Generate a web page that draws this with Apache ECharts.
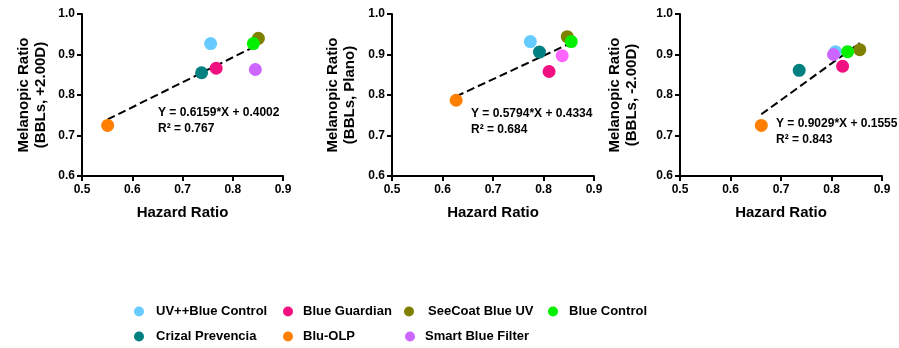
<!DOCTYPE html>
<html>
<head>
<meta charset="utf-8">
<script src="https://cdn.jsdelivr.net/npm/echarts@6/dist/echarts.min.js"></script>
<style>
html,body{margin:0;padding:0;background:#fff;}
#chart{width:899px;height:348px;}
</style>
</head>
<body>
<div id="chart"></div>
<script>
// ---- data ----
const lenses = ["UV++Blue Control", "Blue Guardian", "SeeCoat Blue UV", "Blue Control", "Crizal Prevencia", "Blu-OLP", "Smart Blue Filter"];
const lensColors = ["#66CCFF", "#F0107F", "#808000", "#00F000", "#008080", "#FF8000", "#CC66FF"];
const xTicks = [0.5, 0.6, 0.7, 0.8, 0.9];
const yTicks = [0.6, 0.7, 0.8, 0.9, 1.0];

const hazardPlus2 = [0.756, 0.767, 0.851, 0.841, 0.738, 0.551, 0.845];
const melanPlus2  = [0.927, 0.866, 0.940, 0.927, 0.855, 0.725, 0.863];
const hazardPlano = [0.774, 0.811, 0.847, 0.855, 0.792, 0.627, 0.837];
const melanPlano  = [0.932, 0.858, 0.944, 0.932, 0.906, 0.787, 0.897];
const hazardMinus2 = [0.808, 0.822, 0.856, 0.832, 0.736, 0.661, 0.804];
const melanMinus2  = [0.907, 0.871, 0.912, 0.907, 0.861, 0.725, 0.900];

const slopes = [0.6159, 0.5794, 0.9029];
const intercepts = [0.4002, 0.4334, 0.1555];
const r2 = ["0.767", "0.684", "0.843"];
const yTitles = ["Melanopic Ratio\n(BBLs, +2.00D)", "Melanopic Ratio\n(BBLs, Plano)", "Melanopic Ratio\n(BBLs, -2.00D)"];
const xTitle = "Hazard Ratio";

// ---- layout ----
const panels = [
  {hx: hazardPlus2, my: melanPlus2, grid: {left: 82, top: 14, width: 201, height: 162}, nameGap: 33, eq: [158, 105]},
  {hx: hazardPlano, my: melanPlano, grid: {left: 392, top: 14, width: 202, height: 162}, nameGap: 34, eq: [471, 106]},
  {hx: hazardMinus2, my: melanMinus2, grid: {left: 680, top: 14, width: 202, height: 162}, nameGap: 40, eq: [776, 116]}
];
const panelColorOverride = [{}, {6: "#FF66FF"}, {}];

const FONT = "'Liberation Sans', Arial, sans-serif";

const grids = [], xAxes = [], yAxes = [], series = [], graphics = [];
panels.forEach((p, i) => {
  grids.push(Object.assign({containLabel: false}, p.grid));
  xAxes.push({
    type: 'value', gridIndex: i, min: xTicks[0], max: xTicks[xTicks.length - 1], interval: 0.1,
    name: xTitle, nameLocation: 'middle', nameGap: 29,
    nameTextStyle: {fontFamily: FONT, fontWeight: 'bold', fontSize: 15, color: '#000'},
    axisLine: {lineStyle: {color: '#000', width: 2}},
    axisTick: {show: true, length: 5, lineStyle: {color: '#000', width: 2}},
    axisLabel: {fontFamily: FONT, fontWeight: 'bold', fontSize: 12, color: '#000', margin: 8,
      formatter: v => v.toFixed(1)},
    splitLine: {show: false}
  });
  yAxes.push({
    type: 'value', gridIndex: i, min: yTicks[0], max: yTicks[yTicks.length - 1], interval: 0.1,
    name: yTitles[i], nameLocation: 'middle', nameGap: p.nameGap,
    nameTextStyle: {fontFamily: FONT, fontWeight: 'bold', fontSize: 15, color: '#000', lineHeight: 17},
    axisLine: {lineStyle: {color: '#000', width: 2}},
    axisTick: {show: true, length: 5, lineStyle: {color: '#000', width: 2}},
    axisLabel: {fontFamily: FONT, fontWeight: 'bold', fontSize: 12, color: '#000', margin: 7,
      formatter: v => v.toFixed(1)},
    splitLine: {show: false}
  });
  // regression line
  const xmin = Math.min(...p.hx), xmax = Math.max(...p.hx);
  series.push({
    type: 'line', xAxisIndex: i, yAxisIndex: i, symbol: 'none', silent: true, z: 1,
    data: [[xmin, slopes[i] * xmin + intercepts[i]], [xmax, slopes[i] * xmax + intercepts[i]]],
    lineStyle: {color: '#000', width: 2, type: [8, 4]}
  });
  lenses.forEach((name, k) => {
    const c = panelColorOverride[i][k] || lensColors[k];
    series.push({
      type: 'scatter', name: name, xAxisIndex: i, yAxisIndex: i, symbolSize: 13, z: 3,
      itemStyle: {color: c, opacity: 1},
      data: [[p.hx[k], p.my[k]]]
    });
  });
  graphics.push({
    type: 'text', left: p.eq[0], top: p.eq[1],
    style: {text: 'Y = ' + slopes[i].toFixed(4) + '*X + ' + intercepts[i].toFixed(4) + '\nR\u00B2 = ' + r2[i],
      font: 'bold 12px ' + FONT, fill: '#000', lineHeight: 16}
  });
});

// legends, one per item to keep the column layout
const legendPos = [
  [134, 305, 7], [283, 305, 5], [404, 305, 9], [548, 305, 6],
  [134, 330, 7], [283, 330, 5], [405, 330, 5]
];
const legends = lenses.map((name, k) => ({
  data: [name], left: legendPos[k][0], top: legendPos[k][1], padding: 0,
  icon: 'circle', itemWidth: 10, itemHeight: 10,
  itemStyle: {color: lensColors[k]},
  textStyle: {fontFamily: FONT, fontWeight: 'bold', fontSize: 13, color: '#000', padding: [0, 0, 0, legendPos[k][2]]}
}));

const chart = echarts.init(document.getElementById('chart'), null, {renderer: 'canvas'});
chart.setOption({
  animation: false,
  backgroundColor: '#fff',
  grid: grids, xAxis: xAxes, yAxis: yAxes, series: series,
  legend: legends, graphic: graphics
});
</script>
</body>
</html>
